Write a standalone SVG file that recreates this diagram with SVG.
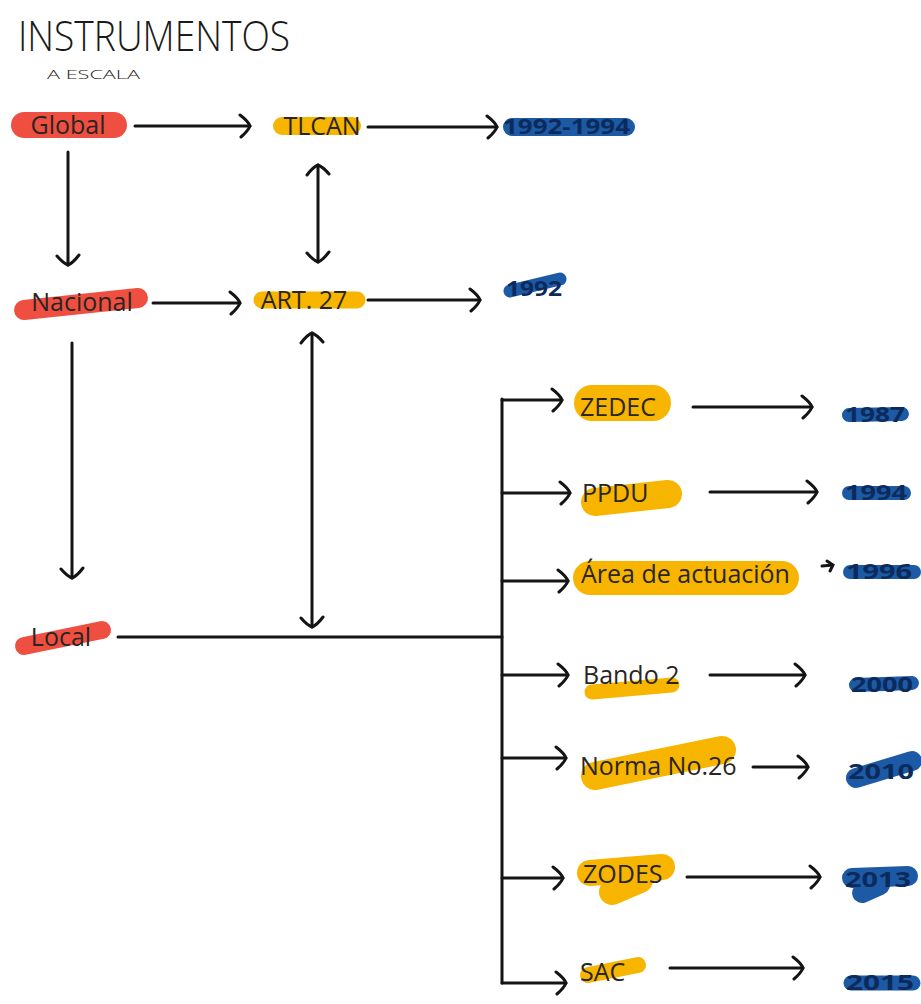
<svg xmlns="http://www.w3.org/2000/svg" width="921" height="1004" viewBox="0 0 921 1004">
<style>
.lbl{font-family:"Open Sans","Noto Sans",sans-serif;font-size:25px;fill:#2a2522}
.yr{font-family:"Open Sans","Noto Sans",sans-serif;font-size:21px;font-weight:bold;fill:#0c2a5c}
.title{font-family:"Open Sans","Liberation Sans",sans-serif;font-weight:300;fill:#1a1a1a}
.red{stroke:#ee4637;fill:none;stroke-linecap:round;stroke-linejoin:round;opacity:0.95}
.yel{stroke:#f7b500;fill:none;stroke-linecap:round;stroke-linejoin:round}
.blu{stroke:#1c5aa5;fill:none;stroke-linecap:round;stroke-linejoin:round}
.ln{stroke:#141414;stroke-width:3;fill:none;stroke-linecap:round}
.ar{marker-end:url(#hd)}
.bi{marker-end:url(#hd);marker-start:url(#hd)}
</style>
<defs>
<marker id="hd" markerUnits="userSpaceOnUse" markerWidth="24" markerHeight="28" refX="12" refY="14" orient="auto-start-reverse" viewBox="0 0 24 28">
<path d="M2 3 Q10 9 12 14 Q10 19 3 25" fill="none" stroke="#141414" stroke-width="3" stroke-linecap="round"/>
</marker>
</defs>
<rect width="921" height="1004" fill="#ffffff"/>

<g id="title">
<text class="title" x="18" y="51" font-size="42" textLength="272" lengthAdjust="spacingAndGlyphs">INSTRUMENTOS</text>
<text class="title" x="47" y="79" font-size="13" font-weight="400" textLength="93" lengthAdjust="spacingAndGlyphs">A ESCALA</text>
</g>

<g id="connectors">
<line class="ln ar" x1="135" y1="126" x2="250" y2="126"/>
<line class="ln ar" x1="368" y1="127" x2="497" y2="127"/>
<line class="ln ar" x1="68" y1="152" x2="68" y2="265"/>
<line class="ln bi" x1="318" y1="165" x2="318" y2="262"/>
<line class="ln ar" x1="153" y1="303" x2="240" y2="303"/>
<line class="ln ar" x1="368" y1="300" x2="480" y2="300"/>
<line class="ln ar" x1="72" y1="343" x2="72" y2="578"/>
<line class="ln bi" x1="312" y1="333" x2="312" y2="627"/>
<line class="ln" x1="118" y1="637" x2="502" y2="637"/>
<line class="ln" x1="502" y1="399" x2="502" y2="983"/>
<line class="ln ar" x1="502" y1="400" x2="562" y2="400"/>
<line class="ln ar" x1="502" y1="493" x2="570" y2="493"/>
<line class="ln ar" x1="502" y1="581" x2="568" y2="581"/>
<line class="ln ar" x1="502" y1="675" x2="568" y2="675"/>
<line class="ln ar" x1="502" y1="758" x2="566" y2="758"/>
<line class="ln ar" x1="502" y1="878" x2="563" y2="878"/>
<line class="ln ar" x1="502" y1="983" x2="566" y2="983"/>
<line class="ln ar" x1="693" y1="407" x2="812" y2="407"/>
<line class="ln ar" x1="710" y1="492" x2="817" y2="492"/>
<path class="ln" d="M822 566 L833 565 M827 561 L833 565 L830 571" stroke-width="2"/>
<line class="ln ar" x1="710" y1="675" x2="805" y2="675"/>
<line class="ln ar" x1="753" y1="767" x2="808" y2="767"/>
<line class="ln ar" x1="687" y1="877" x2="820" y2="877"/>
<line class="ln ar" x1="670" y1="968" x2="803" y2="968"/>
</g>

<g id="global">
<path class="red" d="M24 125 L114 125" stroke-width="26"/>
<text class="lbl" x="68" y="134" text-anchor="middle">Global</text>
</g>
<g id="nacional">
<path class="red" d="M24 310 L138 298" stroke-width="20"/>
<text class="lbl" x="82" y="311" text-anchor="middle">Nacional</text>
</g>
<g id="local">
<path class="red" d="M24 646 L102 630" stroke-width="18"/>
<text class="lbl" x="61" y="646" text-anchor="middle">Local</text>
</g>

<g id="tlcan">
<path class="yel" d="M282 126 L352 126" stroke-width="18"/>
<text class="lbl" x="322" y="135" text-anchor="middle">TLCAN</text>
</g>
<g id="art27">
<path class="yel" d="M262 300 L357 300" stroke-width="17"/>
<text class="lbl" x="304" y="309" text-anchor="middle">ART. 27</text>
</g>

<g id="zedec">
<path class="yel" d="M592 403 L653 403" stroke-width="36"/>
<text class="lbl" x="580" y="416">ZEDEC</text>
</g>
<g id="ppdu">
<path class="yel" d="M595 502 L668 494" stroke-width="28"/>
<text class="lbl" x="582" y="502">PPDU</text>
</g>
<g id="area">
<path class="yel" d="M590 578 L782 578" stroke-width="34"/>
<text class="lbl" x="581" y="583">Área de actuación</text>
</g>
<g id="bando2">
<path class="yel" d="M592 692 L672 685" stroke-width="15"/>
<text class="lbl" x="583" y="684">Bando 2</text>
</g>
<g id="norma26">
<path class="yel" d="M595 776 L722 750" stroke-width="28"/>
<text class="lbl" x="580" y="775">Norma No.26</text>
</g>
<g id="zodes">
<path class="yel" d="M590 873 L662 867 M612 892 L640 880" stroke-width="26"/>
<text class="lbl" x="583" y="883">ZODES</text>
</g>
<g id="sac">
<path class="yel" d="M588 975 L638 965" stroke-width="16"/>
<text class="lbl" x="580" y="981">SAC</text>
</g>

<g id="y1992-1994">
<path class="blu" d="M512 127 L626 127" stroke-width="18"/>
<text class="yr" x="503" y="134" textLength="127" lengthAdjust="spacingAndGlyphs">1992-1994</text>
</g>
<g id="y1992">
<path class="blu" d="M510 291 L560 279" stroke-width="13"/>
<text class="yr" x="506" y="296" font-weight="normal" fill="#2a3350" textLength="56" lengthAdjust="spacingAndGlyphs">1992</text>
</g>
<g id="y1987">
<path class="blu" d="M849 415 L902 414" stroke-width="14"/>
<text class="yr" x="845" y="422" textLength="60" lengthAdjust="spacingAndGlyphs">1987</text>
</g>
<g id="y1994">
<path class="blu" d="M849 493 L904 493" stroke-width="14"/>
<text class="yr" x="845" y="500" textLength="62" lengthAdjust="spacingAndGlyphs">1994</text>
</g>
<g id="y1996">
<path class="blu" d="M850 572 L914 572" stroke-width="14"/>
<text class="yr" x="846" y="579" textLength="66" lengthAdjust="spacingAndGlyphs">1996</text>
</g>
<g id="y2000">
<path class="blu" d="M856 685 L912 683" stroke-width="14"/>
<text class="yr" x="851" y="692" textLength="62" lengthAdjust="spacingAndGlyphs">2000</text>
</g>
<g id="y2010">
<path class="blu" d="M856 778 L912 761" stroke-width="20"/>
<text class="yr" x="848" y="779" textLength="66" lengthAdjust="spacingAndGlyphs">2010</text>
</g>
<g id="y2013">
<path class="blu" d="M852 878 L908 876 M862 893 L880 885" stroke-width="20"/>
<text class="yr" x="845" y="887" textLength="66" lengthAdjust="spacingAndGlyphs">2013</text>
</g>
<g id="y2015">
<path class="blu" d="M851 983 L913 983" stroke-width="15"/>
<text class="yr" x="846" y="990" textLength="68" lengthAdjust="spacingAndGlyphs">2015</text>
</g>
</svg>
